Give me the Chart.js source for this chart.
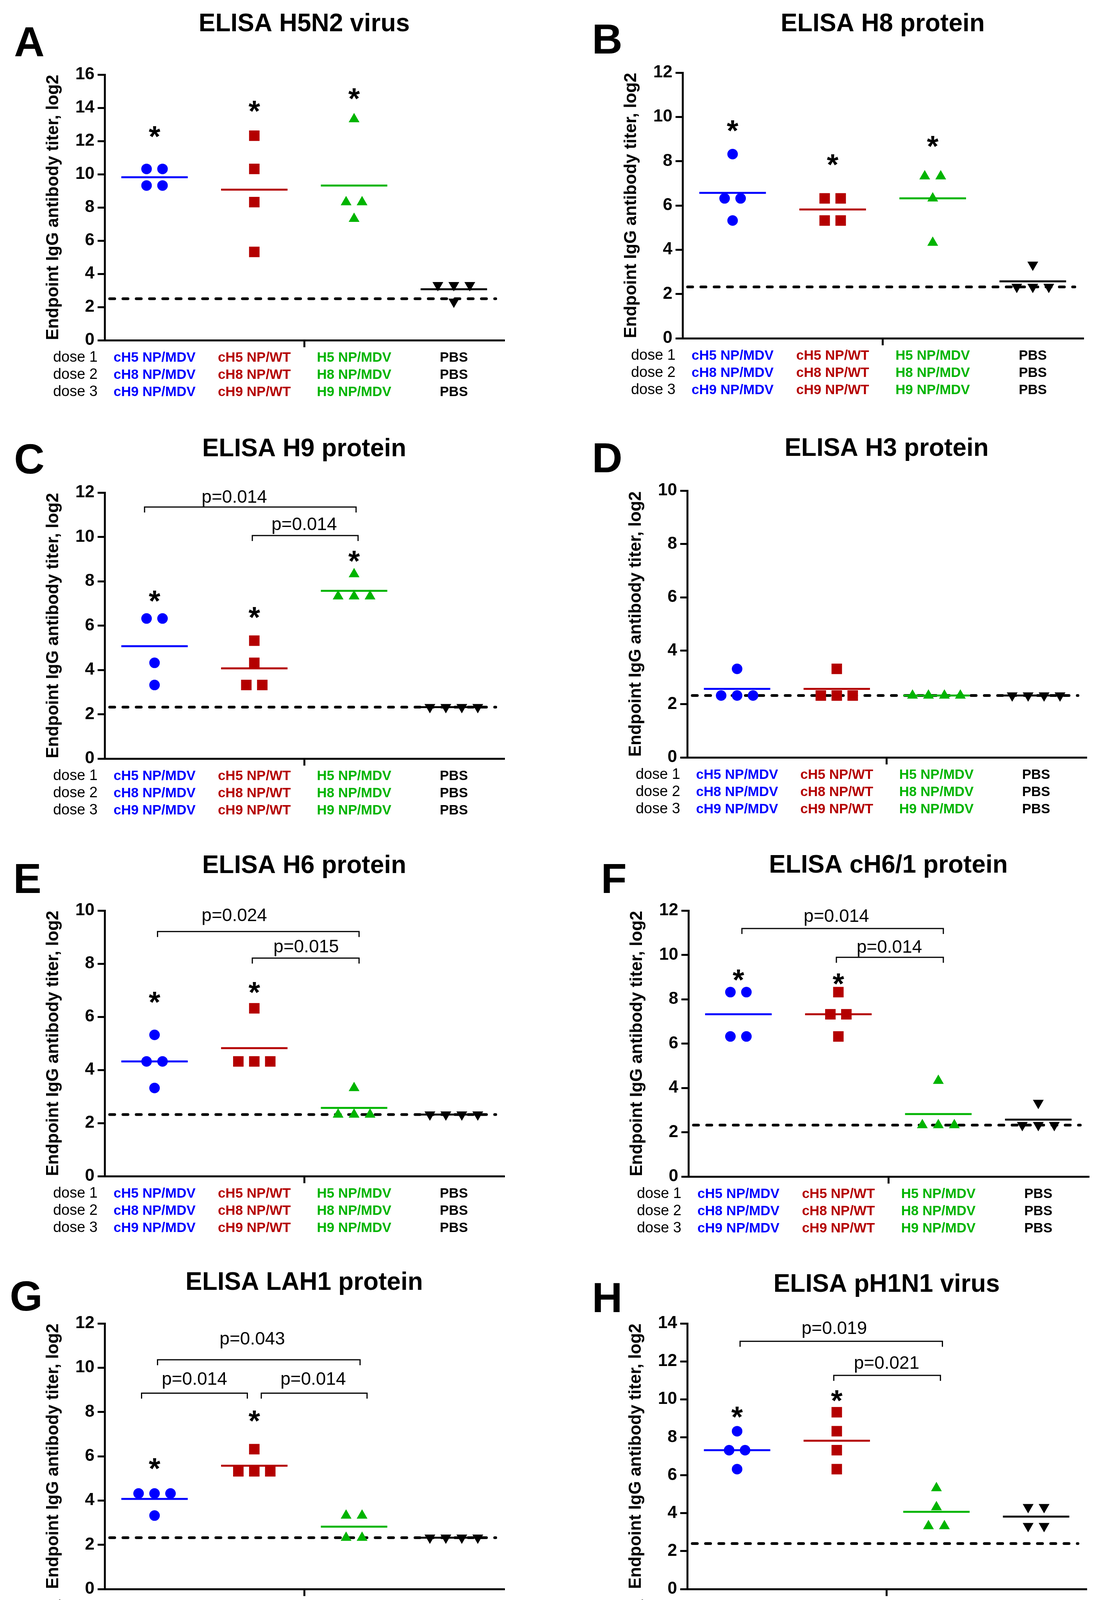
<!DOCTYPE html>
<html>
<head>
<meta charset="utf-8">
<script src="https://cdn.jsdelivr.net/npm/chart.js@4.4.1/dist/chart.umd.min.js"></script>
<style>
  html, body { margin: 0; padding: 0; background: #fff; }
  body { width: 2817px; height: 4240px; position: relative; overflow: hidden; }
  canvas { position: absolute; }
</style>
</head>
<body>
<script>
// ---- data ----
const groupLabels = [
  ["cH5 NP/MDV", "cH8 NP/MDV", "cH9 NP/MDV"],
  ["cH5 NP/WT", "cH8 NP/WT", "cH9 NP/WT"],
  ["H5 NP/MDV", "H8 NP/MDV", "H9 NP/MDV"],
  ["PBS", "PBS", "PBS"]
];
const doseLabels = ["dose 1", "dose 2", "dose 3"];
const panelLetters = ["A", "B", "C", "D", "E", "F", "G", "H"];
const panelTitles = ["ELISA H5N2 virus", "ELISA H8 protein", "ELISA H9 protein", "ELISA H3 protein",
  "ELISA H6 protein", "ELISA cH6/1 protein", "ELISA LAH1 protein", "ELISA pH1N1 virus"];
const yMaxima = [16, 12, 12, 10, 10, 12, 12, 14];
const cutoffs = [2.5, 2.32, 2.32, 2.32, 2.32, 2.32, 2.32, 2.4];

// endpoint titers (log2), 4 animals per group
const titersA = [[10.32, 10.32, 9.32, 9.32], [12.32, 10.32, 8.32, 5.32], [13.32, 8.32, 8.32, 7.32], [3.32, 3.32, 3.32, 2.32]];
const titersB = [[8.32, 6.32, 6.32, 5.32], [6.32, 6.32, 5.32, 5.32], [7.32, 7.32, 6.32, 4.32], [3.32, 2.32, 2.32, 2.32]];
const titersC = [[6.32, 6.32, 4.32, 3.32], [5.32, 4.32, 3.32, 3.32], [8.32, 7.32, 7.32, 7.32], [2.32, 2.32, 2.32, 2.32]];
const titersD = [[3.32, 2.32, 2.32, 2.32], [3.32, 2.32, 2.32, 2.32], [2.32, 2.32, 2.32, 2.32], [2.32, 2.32, 2.32, 2.32]];
const titersE = [[5.32, 4.32, 4.32, 3.32], [6.32, 4.32, 4.32, 4.32], [3.32, 2.32, 2.32, 2.32], [2.32, 2.32, 2.32, 2.32]];
const titersF = [[8.32, 8.32, 6.32, 6.32], [8.32, 7.32, 7.32, 6.32], [4.32, 2.32, 2.32, 2.32], [3.32, 2.32, 2.32, 2.32]];
const titersG = [[4.32, 4.32, 4.32, 3.32], [6.32, 5.32, 5.32, 5.32], [3.32, 3.32, 2.32, 2.32], [2.32, 2.32, 2.32, 2.32]];
const titersH = [[8.32, 7.32, 7.32, 6.32], [9.32, 8.32, 7.32, 6.32], [5.32, 4.32, 3.32, 3.32], [4.32, 4.32, 3.32, 3.32]];

// asterisk heights (y units), null = none
const starsA = [12.66, 14.19, 14.94, null];
const starsB = [9.67, 8.13, 8.96, null];
const starsC = [7.40, 6.66, 9.20, null];
const starsD = [null, null, null, null];
const starsE = [6.79, 7.16, null, null];
const starsF = [9.16, 8.99, null, null];
const starsG = [5.74, 7.89, null, null];
const starsH = [9.41, 10.27, null, null];

// brackets: [from, to, y, text, labelX, labelY]
const bracketsA = [];
const bracketsB = [];
const bracketsC = [[0.9, 3.02, 11.35, "p=0.014", 1.80, 11.55], [1.98, 3.04, 10.06, "p=0.014", 2.50, 10.30]];
const bracketsD = [];
const bracketsE = [[1.03, 3.05, 9.21, "p=0.024", 1.80, 9.60], [1.98, 3.05, 8.21, "p=0.015", 2.52, 8.43]];
const bracketsF = [[1.035, 3.05, 11.19, "p=0.014", 1.98, 11.49], [1.98, 3.05, 9.89, "p=0.014", 2.51, 10.10]];
const bracketsG = [[1.03, 3.06, 10.36, "p=0.043", 1.98, 11.04], [0.87, 1.93, 8.85, "p=0.014", 1.40, 9.23], [2.07, 3.13, 8.85, "p=0.014", 2.59, 9.23]];
const bracketsH = [[1.03, 3.06, 13.06, "p=0.019", 1.975, 13.44], [1.97, 3.04, 11.26, "p=0.021", 2.50, 11.61]];

const allTiters = [titersA, titersB, titersC, titersD, titersE, titersF, titersG, titersH];
const allStars = [starsA, starsB, starsC, starsD, starsE, starsF, starsG, starsH];
const allBrackets = [bracketsA, bracketsB, bracketsC, bracketsD, bracketsE, bracketsF, bracketsG, bracketsH];

// ---- layout & style ----
const FONT = "'Liberation Sans', Arial, Helvetica, sans-serif";
const groupColors = ["#0000ff", "#b40000", "#00b400", "#000000"];
const markers = [
  { style: "circle", radius: 13.5, rotation: 0 },
  { style: "rect", radius: 19, rotation: 0 },
  { style: "triangle", radius: 16, rotation: 0 },
  { style: "triangle", radius: 16, rotation: 180 }
];
// plot area boxes in page pixels: left, top, width, height
const plotBoxes = [[268, 191, 1022, 680], [1748, 186, 1025, 680], [268, 1261, 1022, 681], [1760, 1256, 1021, 683],
  [268, 2331, 1022, 680], [1763, 2331, 1024, 681], [268, 3388, 1022, 680], [1760, 3388, 1021, 680]];
const titleBaselines = [80, 80, 1168, 1167, 2235, 2234, 3302, 3307];
const letterSpots = [[36, 144], [1516, 137], [36, 1212], [1516, 1209], [34, 2286], [1539, 2286], [25, 3355], [1516, 3359]];

const CANVAS_W = 1320, CANVAS_H = 1030, AREA_LEFT = 268, AREA_TOP = 180;
const Y_AXIS_W = 100, X_AXIS_H = 20;
const SPREAD = 0.16, MEAN_HALF = 0.333;

// spread tied values sideways like a scatter dot plot
function spreadOffsets(vals) {
  return vals.map((v, k) => {
    const same = [];
    vals.forEach((w, j) => { if (Math.abs(w - v) < 0.01) same.push(j); });
    const idx = same.indexOf(k);
    return (idx - (same.length - 1) / 2) * SPREAD;
  });
}

const annotate = {
  id: "annotate",
  afterDraw(chart, args, opts) {
    const i = opts.index;
    const { ctx, chartArea: area, scales: { x, y } } = chart;
    const cLeft = plotBoxes[i][0] - AREA_LEFT, cTop = plotBoxes[i][1] - AREA_TOP;
    ctx.save();
    ctx.fillStyle = "#000";

    // panel letter
    ctx.font = `bold 108px ${FONT}`;
    ctx.textAlign = "left";
    ctx.textBaseline = "alphabetic";
    ctx.fillText(panelLetters[i], letterSpots[i][0] - cLeft, letterSpots[i][1] - cTop);

    // title
    ctx.font = `bold 64px ${FONT}`;
    ctx.textAlign = "center";
    ctx.fillText(panelTitles[i], (area.left + area.right) / 2, titleBaselines[i] - cTop);

    // y axis title
    ctx.save();
    ctx.translate(area.left - 131, (area.top + area.bottom) / 2);
    ctx.rotate(-Math.PI / 2);
    ctx.font = `bold 44px ${FONT}`;
    ctx.textBaseline = "middle";
    ctx.fillText("Endpoint IgG antibody titer, log2", 0, 0);
    ctx.restore();

    // dose rows
    ctx.textBaseline = "middle";
    ctx.font = `38px ${FONT}`;
    ctx.textAlign = "right";
    doseLabels.forEach((d, r) => ctx.fillText(d, area.left - 18, area.bottom + 45 + 44 * r));

    // group labels
    ctx.font = `bold 35px ${FONT}`;
    ctx.textAlign = "center";
    groupLabels.forEach((lines, g) => {
      ctx.fillStyle = groupColors[g];
      const cx = x.getPixelForValue(g + 1);
      lines.forEach((t, r) => ctx.fillText(t, cx, area.bottom + 45 + 44 * r));
    });

    // asterisks
    ctx.fillStyle = "#000";
    ctx.font = `bold 76px ${FONT}`;
    ctx.textBaseline = "alphabetic";
    allStars[i].forEach((s, g) => {
      if (s === null) return;
      ctx.fillText("*", x.getPixelForValue(g + 1), y.getPixelForValue(s) + 42);
    });

    // significance brackets
    ctx.strokeStyle = "#000";
    ctx.lineWidth = 3;
    ctx.font = `46px ${FONT}`;
    allBrackets[i].forEach(([from, to, yv, text, lx, ly]) => {
      const x1 = x.getPixelForValue(from), x2 = x.getPixelForValue(to), yb = y.getPixelForValue(yv);
      ctx.beginPath();
      ctx.moveTo(x1, yb + 14);
      ctx.lineTo(x1, yb);
      ctx.lineTo(x2, yb);
      ctx.lineTo(x2, yb + 14);
      ctx.stroke();
      ctx.fillText(text, x.getPixelForValue(lx), y.getPixelForValue(ly));
    });
    ctx.restore();
  }
};

allTiters.forEach((titers, i) => {
  const [pl, pt, pw, ph] = plotBoxes[i];
  const canvas = document.createElement("canvas");
  canvas.width = CANVAS_W;
  canvas.height = CANVAS_H;
  canvas.style.left = (pl - AREA_LEFT) + "px";
  canvas.style.top = (pt - AREA_TOP) + "px";
  canvas.style.width = CANVAS_W + "px";
  canvas.style.height = CANVAS_H + "px";
  document.body.appendChild(canvas);

  const datasets = [];
  titers.forEach((vals, g) => {
    const offs = spreadOffsets(vals);
    const m = markers[g];
    datasets.push({
      data: vals.map((v, k) => ({ x: g + 1 + offs[k], y: v })),
      pointStyle: m.style,
      pointRadius: m.radius,
      pointRotation: m.rotation,
      pointBackgroundColor: groupColors[g],
      pointBorderWidth: 0,
      showLine: false,
      order: 1
    });
    const mean = vals.reduce((a, b) => a + b, 0) / vals.length;
    datasets.push({
      data: [{ x: g + 1 - MEAN_HALF, y: mean }, { x: g + 1 + MEAN_HALF, y: mean }],
      showLine: true,
      borderColor: groupColors[g],
      borderWidth: 5,
      pointRadius: 0,
      order: 0
    });
  });
  datasets.push({
    data: [{ x: 0.55, y: cutoffs[i] }, { x: 4.42, y: cutoffs[i] }],
    showLine: true,
    borderColor: "#000",
    borderWidth: 7,
    borderDash: [13, 21],
    borderCapStyle: "round",
    pointRadius: 0,
    order: 2
  });

  new Chart(canvas, {
    type: "scatter",
    data: { datasets },
    plugins: [annotate],
    options: {
      responsive: false,
      animation: false,
      devicePixelRatio: 1,
      events: [],
      layout: {
        padding: {
          left: AREA_LEFT - Y_AXIS_W,
          top: AREA_TOP,
          right: CANVAS_W - AREA_LEFT - pw,
          bottom: CANVAS_H - AREA_TOP - ph - X_AXIS_H
        }
      },
      plugins: {
        legend: { display: false },
        tooltip: { enabled: false },
        annotate: { index: i }
      },
      scales: {
        x: {
          type: "linear",
          min: 0.5,
          max: 4.5,
          afterBuildTicks: (scale) => { scale.ticks = [{ value: 2.5 }]; },
          afterFit: (scale) => { scale.height = X_AXIS_H; },
          ticks: { display: false },
          grid: { drawOnChartArea: false, color: "#000", lineWidth: 5, tickLength: 18 },
          border: { color: "#000", width: 5 }
        },
        y: {
          min: 0,
          max: yMaxima[i],
          afterFit: (scale) => { scale.width = Y_AXIS_W; },
          ticks: { stepSize: 2, color: "#000", padding: 8, font: { family: FONT, size: 44, weight: "bold" } },
          grid: { drawOnChartArea: false, color: "#000", lineWidth: 5, tickLength: 18 },
          border: { color: "#000", width: 5 }
        }
      }
    }
  });
});
</script>
</body>
</html>
